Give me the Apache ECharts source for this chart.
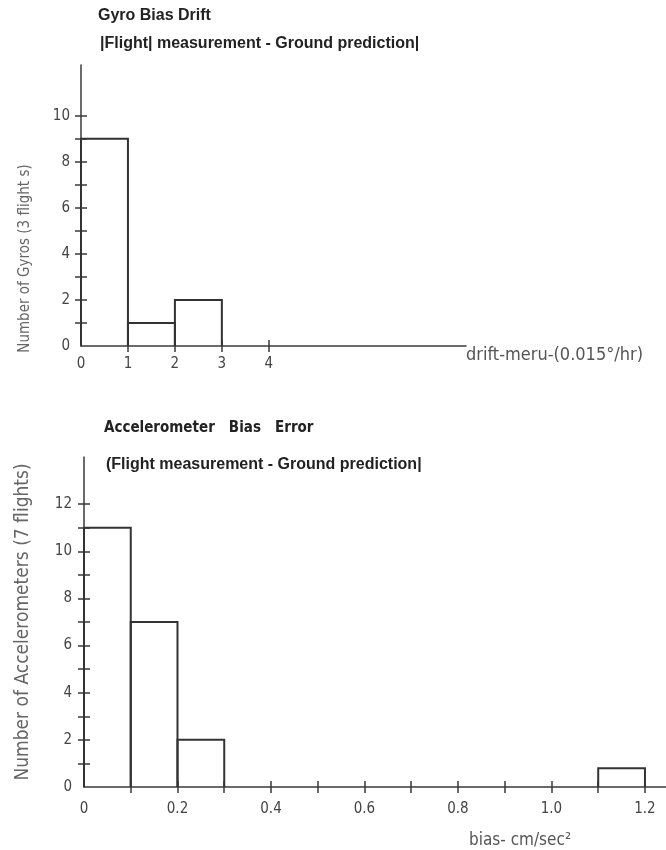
<!DOCTYPE html>
<html>
<head>
<meta charset="utf-8">
<script src="https://cdn.jsdelivr.net/npm/echarts@6/dist/echarts.min.js"></script>
<style>html,body{margin:0;padding:0;background:#fff;}#c{width:666px;height:850px;}</style>
</head>
<body>
<div id="c"></div>
<script>
// Gyro bias drift histogram (units of 0.015 deg/hr)
const gyroBinStart = [0, 1, 2];
const gyroBinEnd   = [1, 2, 3];
const gyroCounts   = [9, 1, 2];
const gyroXLabels  = [0, 1, 2, 3, 4];
const gyroXTicks   = [1, 2, 3, 4];
const gyroYLabels  = [0, 2, 4, 6, 8, 10];
const gyroYTicks   = [1, 2, 3, 4, 5, 6, 7, 8, 9, 10];

// Accelerometer bias error histogram (cm/sec^2)
const accBinStart = [0, 0.1, 0.2, 1.1];
const accBinEnd   = [0.1, 0.2, 0.3, 1.2];
const accCounts   = [11, 7, 2, 0.8];
const accXLabels  = [0, 0.2, 0.4, 0.6, 0.8, 1.0, 1.2];
const accXTicks   = [0.1, 0.2, 0.3, 0.4, 0.5, 0.6, 0.7, 0.8, 0.9, 1.0, 1.1, 1.2];
const accYLabels  = [0, 2, 4, 6, 8, 10, 12];
const accYTicks   = [1, 2, 3, 4, 5, 6, 7, 8, 9, 10, 11, 12];

const ink = '#3a3a3a';
const lblFont = 'DejaVu Sans Condensed';

function bins(s, e, c){ return s.map((v,i)=>[v, e[i], c[i]]); }

function renderBar(params, api){
  const x0 = api.value(0), x1 = api.value(1), y = api.value(2);
  const p0 = api.coord([x0, 0]), p1 = api.coord([x1, y]);
  return {
    type: 'polyline',
    shape: { points: [[p0[0], p0[1]], [p0[0], p1[1]], [p1[0], p1[1]], [p1[0], p0[1]]] },
    style: { stroke: '#333', lineWidth: 2, fill: null }
  };
}

function mainAxis(gi, pos, min, max, labels, ticks, extra){
  return Object.assign({
    type: 'value', gridIndex: gi, position: pos, min: min, max: max,
    splitLine: { show: false },
    axisLine: { show: true, lineStyle: { color: ink, width: 1.5 } },
    axisTick: { show: true, inside: false, length: 6, customValues: ticks, lineStyle: { color: ink, width: 1.5 } },
    axisLabel: { customValues: labels, color: '#444', fontFamily: lblFont, fontSize: 15 }
  }, extra || {});
}
function innerAxis(gi, pos, min, max, ticks){
  return {
    type: 'value', gridIndex: gi, position: pos, offset: 0, min: min, max: max,
    splitLine: { show: false },
    axisLine: { show: true, lineStyle: { color: ink, width: 1.5, opacity: 0 } },
    axisTick: { show: true, inside: true, length: 6, customValues: ticks, lineStyle: { color: ink, width: 1.5 } },
    axisLabel: { show: false }
  };
}

const titleStyle = { fontFamily: 'Liberation Sans', fontWeight: 'bold', fontSize: 16, color: '#222' };

const chart = echarts.init(document.getElementById('c'), null, { renderer: 'canvas' });
chart.setOption({
  backgroundColor: '#ffffff',
  animation: false,
  title: [
    { text: 'Gyro Bias Drift', left: 93, top: 3, textStyle: titleStyle },
    { text: '|Flight| measurement - Ground prediction|', left: 95, top: 31, textStyle: titleStyle },
    { text: 'Accelerometer   Bias   Error', left: 99, top: 416,
      textStyle: { fontFamily: lblFont, fontWeight: 'bold', fontSize: 15, color: '#222' } },
    { text: '(Flight measurement - Ground prediction|', left: 101, top: 452, textStyle: titleStyle }
  ],
  grid: [
    { left: 81, top: 65, width: 385, height: 281 },
    { left: 84, top: 457, width: 582, height: 330 }
  ],
  xAxis: [
    mainAxis(0, 'bottom', 0, 8.2, gyroXLabels, gyroXTicks, {
      axisLabel: { customValues: gyroXLabels, color: '#444', fontFamily: lblFont, fontSize: 15, margin: 11 },
      name: 'drift-meru-(0.015°/hr)', nameLocation: 'end', nameGap: 0,
      nameTextStyle: { fontFamily: lblFont, fontSize: 18, color: '#555', align: 'left', verticalAlign: 'top' }
    }),
    innerAxis(0, 'bottom', 0, 8.2, gyroXTicks),
    mainAxis(1, 'bottom', 0, 1.245, accXLabels, accXTicks, {
      axisLabel: { customValues: accXLabels, color: '#444', fontFamily: lblFont, fontSize: 15, margin: 15,
        formatter: v => v === 0 ? '0' : v.toFixed(1) },
      name: 'bias- cm/sec²', nameLocation: 'middle', nameGap: 45,
      nameTextStyle: { fontFamily: lblFont, fontSize: 17, color: '#555', padding: [0, 0, 0, 290] }
    }),
    innerAxis(1, 'bottom', 0, 1.245, accXTicks)
  ],
  yAxis: [
    mainAxis(0, 'left', 0, 12.2, gyroYLabels, gyroYTicks, {
      axisLabel: { customValues: gyroYLabels, color: '#444', fontFamily: lblFont, fontSize: 15, margin: 11 },
      name: 'Number of Gyros (3 flight s)', nameLocation: 'middle', nameGap: 48,
      nameTextStyle: { fontFamily: lblFont, fontSize: 15, color: '#666', padding: [0, 106, 0, 0] }
    }),
    innerAxis(0, 'left', 0, 12.2, gyroYTicks),
    mainAxis(1, 'left', 0, 14, accYLabels, accYTicks, {
      axisLabel: { customValues: accYLabels, color: '#444', fontFamily: lblFont, fontSize: 15, margin: 12 },
      name: 'Number of Accelerometers (7 flights)', nameLocation: 'middle', nameGap: 51,
      nameTextStyle: { fontFamily: lblFont, fontSize: 19, color: '#666' }
    }),
    innerAxis(1, 'left', 0, 14, accYTicks)
  ],
  series: [
    { type: 'custom', name: 'Gyros', xAxisIndex: 0, yAxisIndex: 0,
      data: bins(gyroBinStart, gyroBinEnd, gyroCounts),
      encode: { x: [0, 1], y: 2 }, renderItem: renderBar, clip: false },
    { type: 'custom', name: 'Accelerometers', xAxisIndex: 2, yAxisIndex: 2,
      data: bins(accBinStart, accBinEnd, accCounts),
      encode: { x: [0, 1], y: 2 }, renderItem: renderBar, clip: false }
  ]
});
</script>
</body>
</html>
